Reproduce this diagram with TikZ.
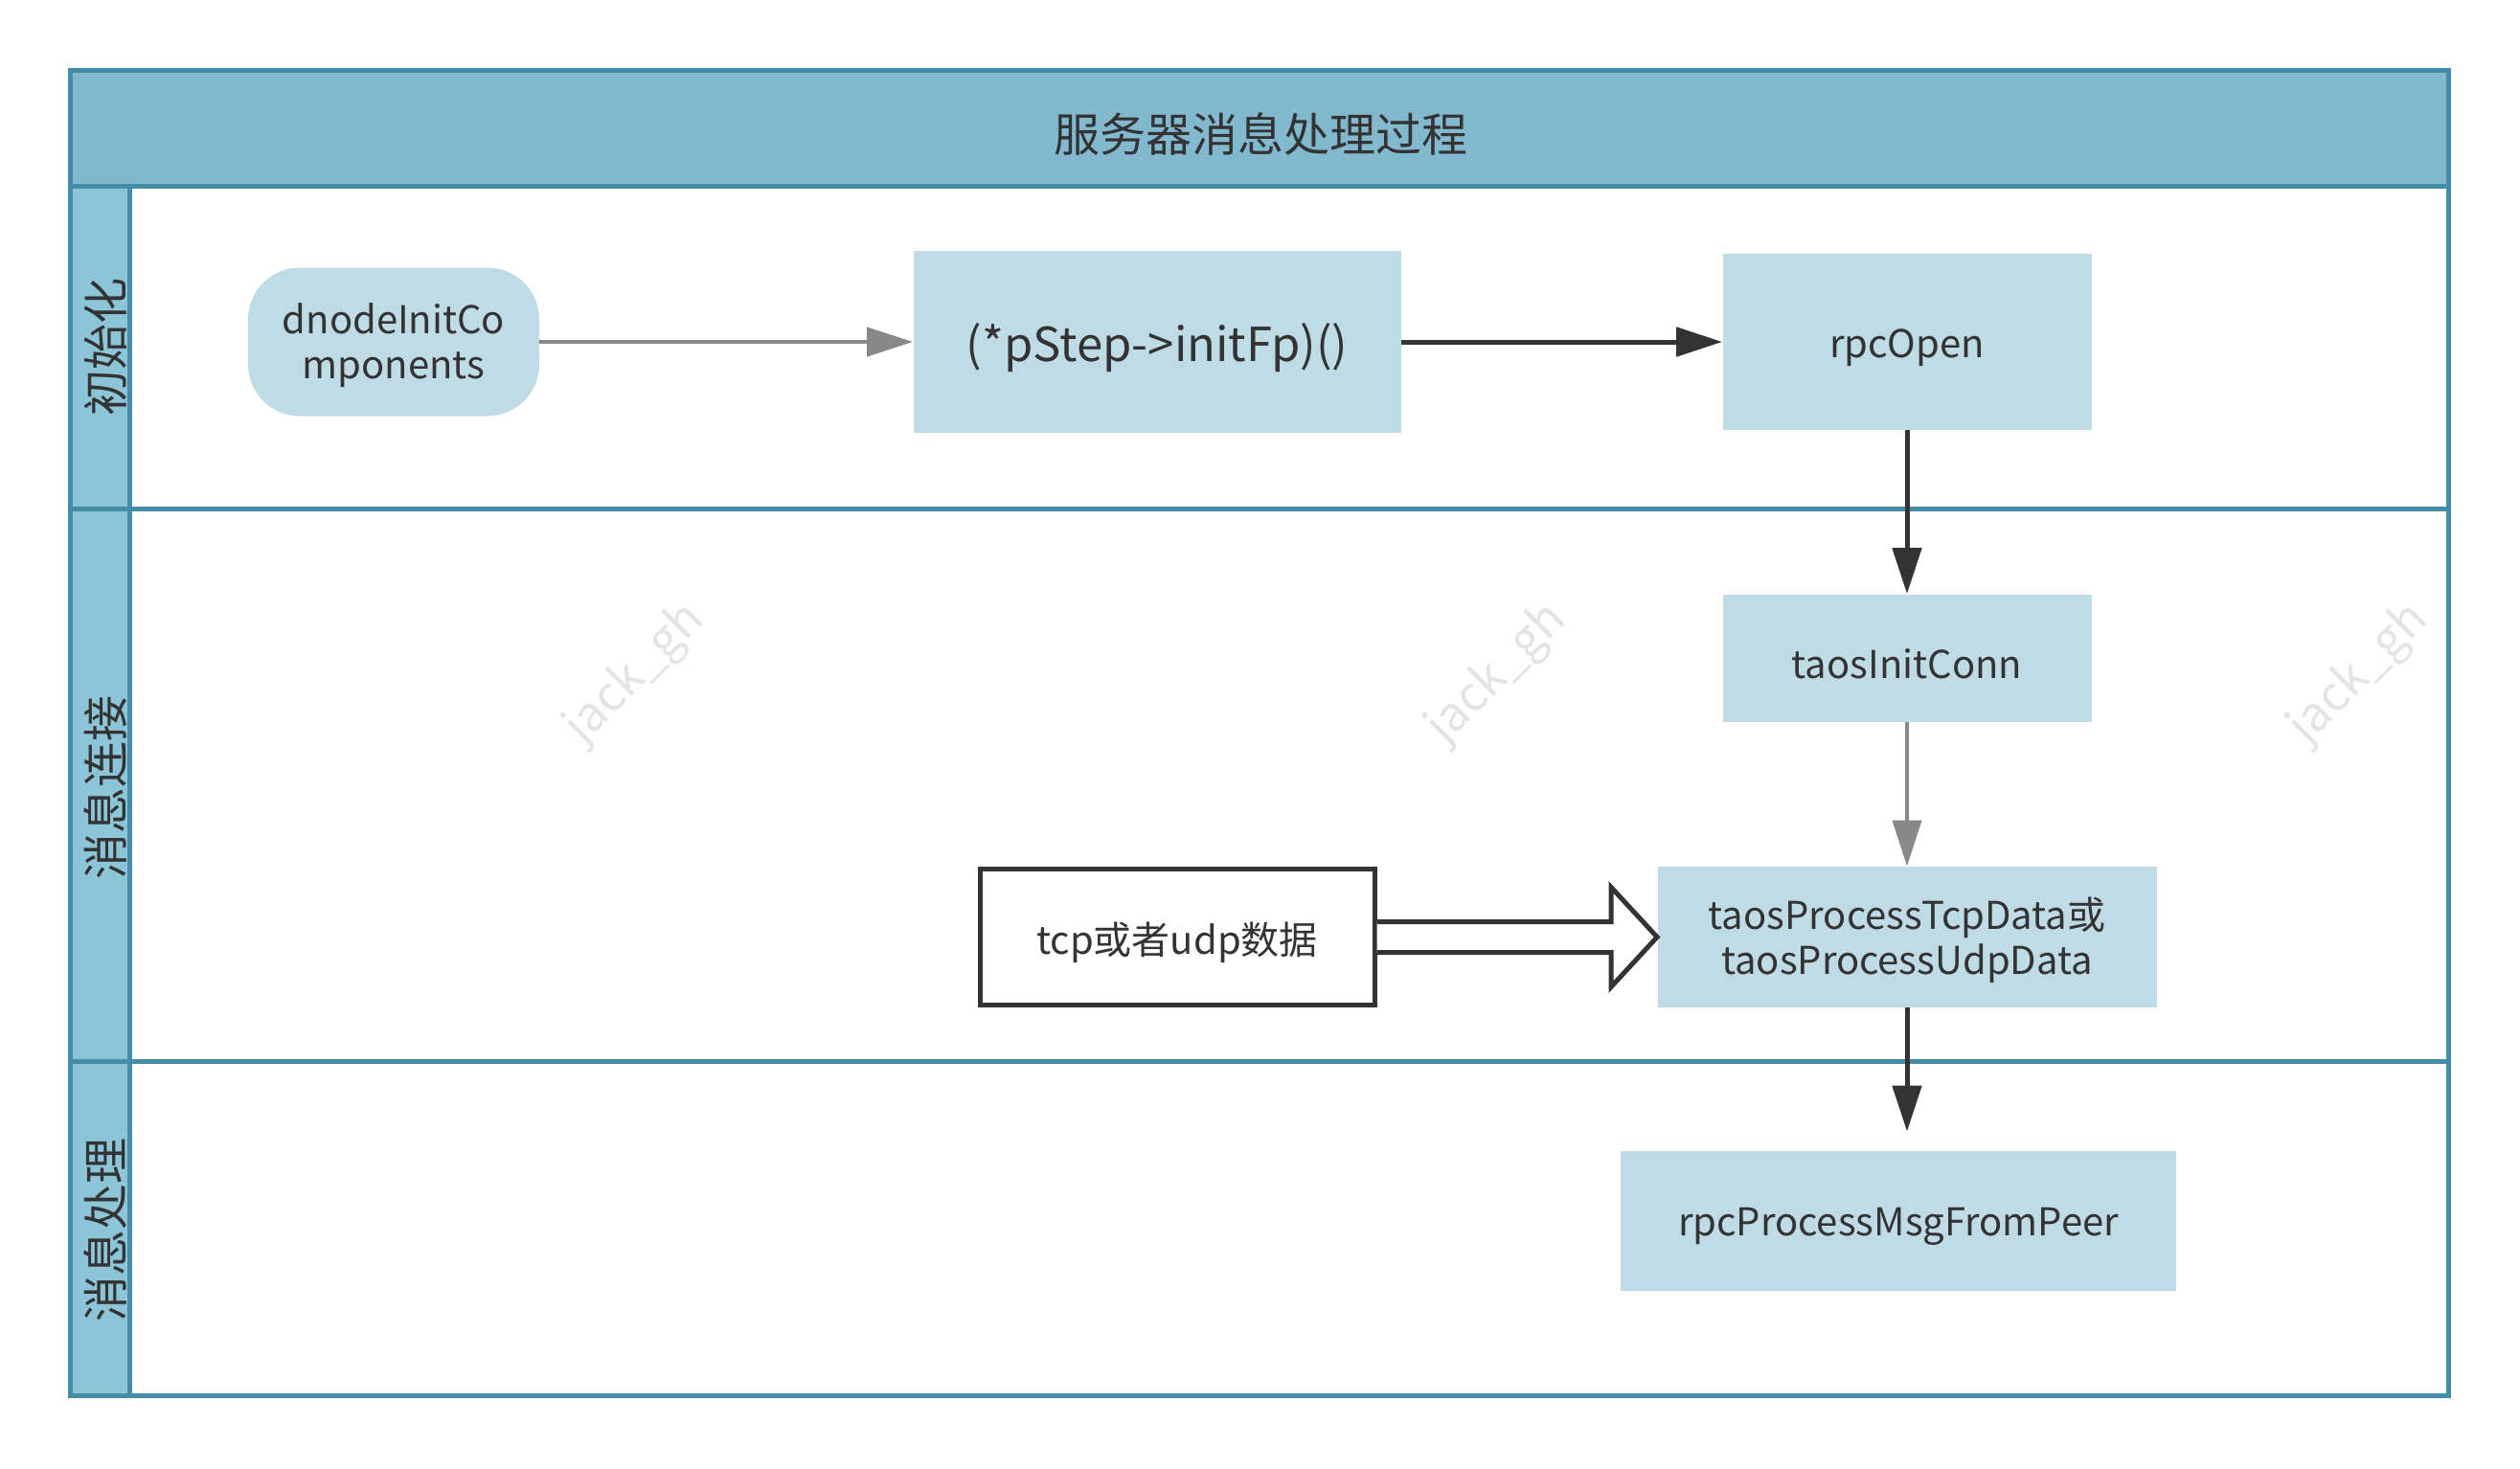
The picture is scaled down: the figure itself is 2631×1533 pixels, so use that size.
\documentclass[tikz,border=0pt]{standalone}
\usepackage{fontspec}
\setmainfont{Noto Sans CJK SC}
\usetikzlibrary{arrows.meta,calc}
\definecolor{frameblue}{HTML}{438DA8}
\definecolor{headfill}{HTML}{82B9CF}
\definecolor{lanefill}{HTML}{8CC5D8}
\definecolor{boxfill}{HTML}{BFDCE6}
\definecolor{txt}{HTML}{333333}
\definecolor{grayarrow}{HTML}{888888}
\definecolor{wmark}{HTML}{E4E4E4}
\newcommand{\dnshift}[1]{\raisebox{-3pt}[\height][\depth]{#1}}
\newcommand{\twolines}[2]{\raisebox{-3pt}[\height][\depth]{\begin{tabular}{@{}c@{}}#1\\#2\end{tabular}}}
\tikzset{
  procbox/.style={fill=boxfill, inner sep=0pt, align=center, text=txt,
    font=\fontsize{20pt}{23.5pt}\selectfont},
  lanelabel/.style={rotate=90, text=txt, inner sep=0pt,
    font=\fontsize{24pt}{27pt}\selectfont},
  framestroke/.style={draw=frameblue, line width=2.5pt},
  grayconn/.style={draw=grayarrow, line width=2pt,
    -{Triangle[length=24pt,width=15pt]}},
  darkconn/.style={draw=txt, line width=2.5pt,
    -{Triangle[length=24pt,width=15pt]}},
  hollowarrow/.style={draw=txt, line width=2.5pt, fill=white, line join=miter},
  watermark/.style={rotate=45, text=wmark, font=\fontsize{25pt}{25pt}\selectfont}
}
\begin{document}
\begin{tikzpicture}[x=0.5pt,y=-0.5pt]
\useasboundingbox (0,0) rectangle (2631,1533);
\clip (0,0) rectangle (2631,1533);
% watermarks
\foreach \wx in {663,1563,2463}{
  \node[watermark] at (\wx,704) {jack\_gh};
  \node[watermark] at (\wx,1607) {jack\_gh};
}
% frame fills
\fill[headfill] (73,73) rectangle (2556,194);
\fill[lanefill] (73,194) rectangle (135,1457);
% frame lines
\draw[framestroke] (73,73) rectangle (2556,1457);
\draw[framestroke] (73,194) -- (2556,194);
\draw[framestroke] (135,194) -- (135,1457);
\draw[framestroke] (73,531) -- (2556,531);
\draw[framestroke] (73,1108) -- (2556,1108);
% title and lane labels
\node[text=txt, font=\fontsize{24pt}{28pt}\selectfont] (title) at (1316,140) {服务器消息处理过程};
\node[lanelabel] (lane1) at (110,362) {初始化};
\node[lanelabel] (lane2) at (110,822) {消息连接};
\node[lanelabel] (lane3) at (110,1284) {消息处理};
% nodes
\node[procbox, rounded corners=27pt, minimum width=152pt, minimum height=77.5pt] (dnode) at (411,357) {\twolines{dnodeInitCo}{mponents}};
\node[procbox, minimum width=254.5pt, minimum height=95pt, font=\fontsize{24.5pt}{28pt}\selectfont] (pstep) at (1208,357) {\dnshift{(*pStep->initFp)()}};
\node[procbox, minimum width=192.5pt, minimum height=92pt] (rpcopen) at (1991,357) {\dnshift{rpcOpen}};
\node[procbox, minimum width=192.5pt, minimum height=66.5pt] (initconn) at (1991,687) {\dnshift{taosInitConn}};
\node[procbox, minimum width=260.5pt, minimum height=73.5pt] (proc) at (1991,978.5) {\twolines{taosProcessTcpData或}{taosProcessUdpData}};
\node[procbox, minimum width=290pt, minimum height=73pt] (msg) at (1982,1275) {\dnshift{rpcProcessMsgFromPeer}};
\node[procbox, fill=white, draw=txt, line width=2.5pt, minimum width=206pt, minimum height=71pt] (tcp) at (1229,978.5) {\dnshift{tcp或者udp数据}};
% connectors
\draw[grayconn] (dnode.east) -- (pstep.west);
\draw[darkconn] (pstep.east) -- (rpcopen.west);
\draw[darkconn] (rpcopen.south) -- (initconn.north);
\draw[grayconn] (initconn.south) -- (proc.north);
\draw[darkconn, shorten >=10pt] (proc.south) -- (proc.south |- msg.north);
\draw[hollowarrow] ($(tcp.east)+(0,-16)$) -- ($(proc.west)+(-48,-16)$) -- ($(proc.west)+(-48,-52)$) -- (proc.west) -- ($(proc.west)+(-48,52)$) -- ($(proc.west)+(-48,16)$) -- ($(tcp.east)+(0,16)$);
\end{tikzpicture}
\end{document}
